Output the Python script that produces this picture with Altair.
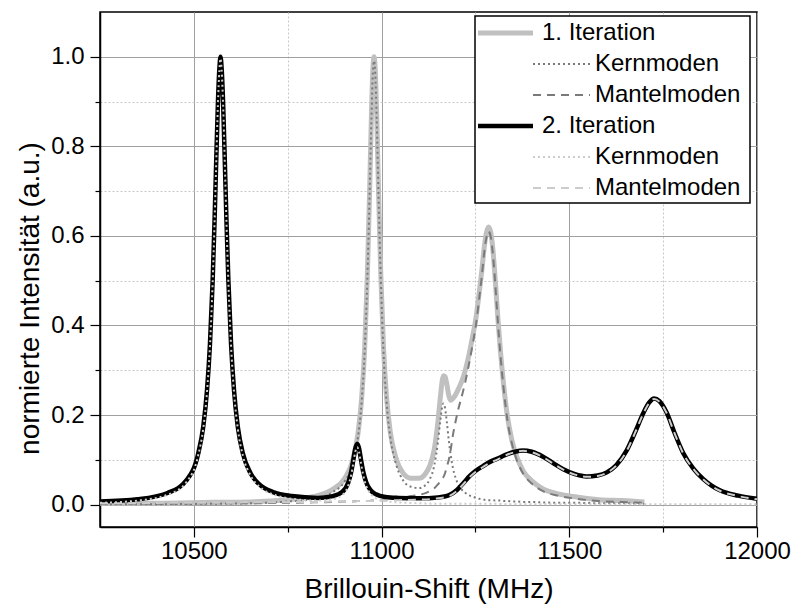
import altair as alt
import pandas as pd

FONT = "Liberation Sans"

# ---------------- 1. Iteration ----------------
x1 = [10250, 10400, 10550, 10650, 10750, 10820, 10870, 10902, 10922, 10937, 10947, 10955,
      10962, 10968, 10973, 10977, 10980, 10983, 10987, 10992, 10998, 11005, 11013, 11023,
      11038, 11056, 11078, 11100, 11115, 11128, 11140, 11150, 11157, 11162, 11165, 11169,
      11174, 11179, 11184, 11190, 11197, 11205, 11213, 11222, 11232, 11242, 11252, 11260,
      11267, 11273, 11279, 11285, 11291, 11297, 11303, 11310, 11317, 11325, 11335, 11347,
      11360, 11378, 11400, 11430, 11470, 11520, 11580, 11640, 11700]
k1 = [0.001, 0.001, 0.002, 0.003, 0.007, 0.013, 0.028, 0.052, 0.089, 0.150, 0.230, 0.342,
      0.501, 0.686, 0.862, 0.965, 0.991, 0.965, 0.862, 0.687, 0.502, 0.344, 0.232, 0.152,
      0.092, 0.056, 0.040, 0.037, 0.042, 0.056, 0.086, 0.139, 0.191, 0.221, 0.226, 0.216,
      0.183, 0.144, 0.111, 0.082, 0.060, 0.044, 0.034, 0.027, 0.021, 0.018, 0.015, 0.013,
      0.012, 0.011, 0.011, 0.010, 0.010, 0.010, 0.009, 0.009, 0.009, 0.008, 0.008, 0.007,
      0.007, 0.006, 0.006, 0.005, 0.004, 0.004, 0.003, 0.003, 0.002]
m1 = [0.002, 0.002, 0.003, 0.003, 0.004, 0.005, 0.006, 0.007, 0.007, 0.008, 0.008, 0.008,
      0.008, 0.008, 0.009, 0.009, 0.009, 0.009, 0.009, 0.010, 0.010, 0.010, 0.011, 0.011,
      0.013, 0.016, 0.019, 0.022, 0.025, 0.030, 0.036, 0.045, 0.052, 0.058, 0.062, 0.070,
      0.085, 0.100, 0.122, 0.155, 0.185, 0.215, 0.240, 0.270, 0.310, 0.355, 0.405, 0.460,
      0.510, 0.560, 0.595, 0.610, 0.597, 0.555, 0.490, 0.405, 0.330, 0.260, 0.190, 0.137,
      0.100, 0.068, 0.047, 0.030, 0.020, 0.013, 0.008, 0.006, 0.004]
g1 = [0.003, 0.003, 0.005, 0.006, 0.011, 0.018, 0.034, 0.059, 0.096, 0.158, 0.238, 0.350,
      0.509, 0.694, 0.871, 0.974, 1.000, 0.974, 0.871, 0.697, 0.512, 0.354, 0.243, 0.163,
      0.105, 0.072, 0.059, 0.059, 0.067, 0.086, 0.122, 0.184, 0.243, 0.279, 0.288, 0.286,
      0.268, 0.244, 0.233, 0.237, 0.245, 0.259, 0.274, 0.297, 0.331, 0.373, 0.420, 0.473,
      0.522, 0.571, 0.606, 0.620, 0.607, 0.565, 0.499, 0.414, 0.339, 0.268, 0.198, 0.144,
      0.107, 0.074, 0.053, 0.035, 0.024, 0.017, 0.011, 0.009, 0.006]

# ---------------- 2. Iteration ----------------
x2 = [10250, 10350, 10430, 10480, 10511, 10525, 10535, 10543, 10550, 10555, 10559, 10564,
      10568, 10571, 10574, 10578, 10583, 10587, 10592, 10599, 10607, 10617, 10631, 10651,
      10676, 10711, 10761, 10830, 10870, 10895, 10911, 10919, 10925, 10930, 10935, 10940,
      10945, 10951, 10959, 10970, 10985, 11010, 11045, 11100, 11150, 11180, 11200, 11217,
      11235, 11250, 11270, 11290, 11307, 11330, 11355, 11377, 11400, 11430, 11460, 11484,
      11515, 11546, 11575, 11600, 11625, 11653, 11675, 11697, 11712, 11726, 11740, 11759,
      11780, 11803, 11830, 11857, 11880, 11901, 11950, 12000]
k2 = [0.004, 0.009, 0.022, 0.050, 0.108, 0.170, 0.251, 0.356, 0.495, 0.626, 0.746, 0.891,
      0.970, 0.996, 0.970, 0.891, 0.746, 0.626, 0.495, 0.356, 0.251, 0.170, 0.108, 0.065,
      0.039, 0.023, 0.013, 0.009, 0.012, 0.021, 0.042, 0.066, 0.094, 0.118, 0.128, 0.118,
      0.093, 0.066, 0.042, 0.025, 0.014, 0.008, 0.005, 0.003, 0.002, 0.002, 0.002, 0.002,
      0.002, 0.002, 0.002, 0.002, 0.002, 0.001, 0.001, 0.001, 0.001, 0.001, 0.001, 0.001,
      0.001, 0.001, 0.001, 0.001, 0.001, 0.001, 0.001, 0.001, 0.001, 0.001, 0.001, 0.001,
      0.001, 0.001, 0.001, 0.001, 0.001, 0.001, 0.001, 0.001]
m2 = [0.003, 0.003, 0.004, 0.004, 0.004, 0.004, 0.004, 0.004, 0.004, 0.004, 0.004, 0.004,
      0.004, 0.004, 0.004, 0.004, 0.004, 0.004, 0.004, 0.004, 0.004, 0.004, 0.005, 0.005,
      0.005, 0.005, 0.006, 0.006, 0.007, 0.007, 0.007, 0.007, 0.007, 0.007, 0.008, 0.008,
      0.008, 0.008, 0.008, 0.008, 0.009, 0.009, 0.010, 0.011, 0.014, 0.019, 0.030, 0.045,
      0.062, 0.073, 0.084, 0.094, 0.100, 0.110, 0.117, 0.120, 0.117, 0.106, 0.090, 0.078,
      0.067, 0.062, 0.064, 0.071, 0.087, 0.120, 0.160, 0.203, 0.226, 0.236, 0.230, 0.205,
      0.160, 0.115, 0.080, 0.056, 0.041, 0.031, 0.019, 0.012]
g2 = [0.007, 0.012, 0.026, 0.054, 0.112, 0.174, 0.255, 0.360, 0.499, 0.630, 0.750, 0.895,
      0.974, 1.000, 0.974, 0.895, 0.750, 0.630, 0.499, 0.360, 0.255, 0.174, 0.113, 0.070,
      0.044, 0.028, 0.019, 0.015, 0.019, 0.028, 0.049, 0.073, 0.101, 0.125, 0.136, 0.126,
      0.101, 0.074, 0.050, 0.033, 0.023, 0.017, 0.015, 0.014, 0.016, 0.021, 0.032, 0.047,
      0.064, 0.075, 0.086, 0.096, 0.102, 0.111, 0.118, 0.121, 0.118, 0.107, 0.091, 0.079,
      0.068, 0.063, 0.065, 0.072, 0.088, 0.121, 0.161, 0.204, 0.227, 0.237, 0.231, 0.206,
      0.161, 0.116, 0.081, 0.057, 0.042, 0.032, 0.020, 0.013]

# ---------------- axes ----------------
x_major = [10500, 11000, 11500, 12000]
x_minor = [10750, 11250, 11750]
y_major = [0.0, 0.2, 0.4, 0.6, 0.8, 1.0]
y_minor = [0.1, 0.3, 0.5, 0.7, 0.9]

legend_labels = ["1. Iteration", "Kernmoden", "Mantelmoden",
                 "2. Iteration", "Kernmoden", "Mantelmoden"]

styles = [
    dict(color="#c0c0c0", strokeWidth=5),
    dict(color="#7a7a7a", strokeWidth=2, strokeDash=[2, 3]),
    dict(color="#7a7a7a", strokeWidth=2, strokeDash=[8, 6]),
    dict(color="#000000", strokeWidth=4.5),
    dict(color="#cccccc", strokeWidth=2, strokeDash=[2, 3]),
    dict(color="#cccccc", strokeWidth=2, strokeDash=[8, 6]),
]
is_main = [True, False, False, True, False, False]
series_xy = [(x1, g1), (x1, k1), (x1, m1), (x2, g2), (x2, k2), (x2, m2)]

xs = alt.Scale(domain=[10250, 12000], nice=False, zero=False)
ys = alt.Scale(domain=[-0.05, 1.1], nice=False, zero=False)

common = dict(labelFont=FONT, titleFont=FONT, labelColor="black", titleColor="black",
              tickColor="black", domainColor="black", tickWidth=1.2, domainWidth=1.5,
              titleFontWeight="normal")

x_major_axis = alt.Axis(values=x_major, orient="bottom", format="d", grid=True,
                        gridColor="#a0a0a0", gridWidth=1, tickSize=10, labelFontSize=24,
                        labelPadding=2, labelFlush=False, labelOverlap=False,
                        title="Brillouin-Shift (MHz)", titleFontSize=28,
                        titleY=62, titleBaseline="middle", **common)
y_major_axis = alt.Axis(values=y_major, orient="left", format=".1f", grid=True,
                        gridColor="#a0a0a0", gridWidth=1, tickSize=10, labelFontSize=24,
                        labelPadding=6, labelFlush=False, labelOverlap=False,
                        title="normierte Intensität (a.u.)", titleFontSize=28,
                        titleX=-70, titleY=286, titleAngle=270, titleAlign="center",
                        titleBaseline="middle", **common)
x_minor_axis = alt.Axis(values=x_minor, orient="bottom", grid=True, gridColor="#c8c8c8",
                        gridDash=[2, 2], gridWidth=1, tickSize=5, tickColor="black",
                        tickWidth=1.2, labels=False, domain=False, title=None)
y_minor_axis = alt.Axis(values=y_minor, orient="left", grid=True, gridColor="#c8c8c8",
                        gridDash=[2, 2], gridWidth=1, tickSize=5, tickColor="black",
                        tickWidth=1.2, labels=False, domain=False, title=None)

layers = []
minor = alt.Chart(pd.DataFrame({"x": x1, "y": g1})).mark_line(opacity=0).encode(
    x=alt.X("x:Q", scale=xs, axis=x_minor_axis),
    y=alt.Y("y:Q", scale=ys, axis=y_minor_axis),
)
layers.append(minor)

for i, ((xv, yv), st) in enumerate(zip(series_xy, styles)):
    df = pd.DataFrame({"x": xv, "y": yv})
    if i == 0:
        enc_x = alt.X("x:Q", scale=xs, axis=x_major_axis)
        enc_y = alt.Y("y:Q", scale=ys, axis=y_major_axis)
    else:
        enc_x = alt.X("x:Q", scale=xs, axis=None)
        enc_y = alt.Y("y:Q", scale=ys, axis=None)
    layers.append(
        alt.Chart(df).mark_line(interpolate="monotone", clip=True, **st).encode(x=enc_x, y=enc_y)
    )

# ---------------- legend (drawn inside the plot) ----------------
dummy = pd.DataFrame({"a": [0]})
box = alt.Chart(dummy).mark_rect(fill="white", stroke="black", strokeWidth=1.5).encode(
    x=alt.value(375), x2=alt.value(650), y=alt.value(4), y2=alt.value(191)
)
layers.append(box)
for i, (lab, st, main) in enumerate(zip(legend_labels, styles, is_main)):
    ry = 21 + i * 31
    if main:
        lx0, lx1, tx = 378, 433, 442
    else:
        lx0, lx1, tx = 433, 490, 495
    layers.append(
        alt.Chart(dummy).mark_rule(**st).encode(
            x=alt.value(lx0), x2=alt.value(lx1), y=alt.value(ry)
        )
    )
    layers.append(
        alt.Chart(dummy).mark_text(text=lab, align="left", baseline="middle", font=FONT,
                                   fontSize=24, color="black").encode(
            x=alt.value(tx), y=alt.value(ry)
        )
    )

chart = alt.layer(*layers).resolve_axis(x="independent", y="independent").properties(
    width=657, height=515,
    autosize=alt.AutoSizeParams(type="none"),
    padding={"left": 100, "top": 12, "right": 35, "bottom": 84},
    background="white",
).configure_view(stroke="black", strokeWidth=1.5)

chart.save("out.html", embed_options={"renderer": "svg", "actions": False})
